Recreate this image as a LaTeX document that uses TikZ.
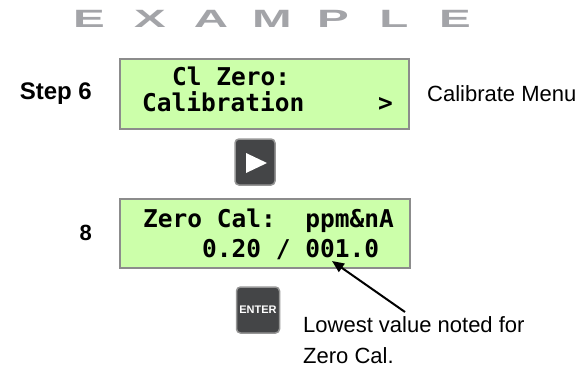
\documentclass[tikz,border=0pt]{standalone}
\usepackage{fontspec}
\setmainfont{Liberation Sans}
\newfontfamily\lcdfont{DejaVu Sans Mono}
\usetikzlibrary{arrows.meta}
\definecolor{lcdgreen}{RGB}{204,255,170}
\definecolor{lcdborder}{RGB}{140,140,140}
\definecolor{btnfill}{RGB}{68,69,71}
\definecolor{btnborder}{RGB}{150,150,150}
\definecolor{examplegrey}{RGB}{163,164,168}
\begin{document}
\begin{tikzpicture}[x=1pt,y=-1pt,
  lcdbox/.style={draw=lcdborder, line width=2pt, fill=lcdgreen, inner sep=0pt, anchor=north west},
  lcdtext/.style={inner sep=0pt, anchor=base west, font=\lcdfont\bfseries\fontsize{24.5}{24.5}\selectfont},
  btn/.style={draw=btnborder, line width=1.5pt, fill=btnfill, rounded corners=4pt, inner sep=0pt},
  steplabel/.style={inner sep=0pt, anchor=base east, font=\bfseries\fontsize{24}{24}\selectfont},
  note/.style={inner sep=0pt, anchor=base west, font=\fontsize{22}{22}\selectfont}
]
\useasboundingbox (0,0) rectangle (587,367);
% title
\node[text=examplegrey, inner sep=0pt, font=\bfseries\fontsize{25}{25}\selectfont] (title) at (272,19)
  {\makebox[61pt]{\scalebox{1.9}[1]{E}}\makebox[61pt]{\scalebox{1.9}[1]{X}}\makebox[61pt]{\scalebox{1.9}[1]{A}}\makebox[61pt]{\scalebox{1.9}[1]{M}}\makebox[61pt]{\scalebox{1.9}[1]{P}}\makebox[61pt]{\scalebox{1.9}[1]{L}}\makebox[61pt]{\scalebox{1.9}[1]{E}}};
% LCD 1
\node[lcdbox, minimum width=289pt, minimum height=70pt] (lcd1) at (119,58) {};
\node[lcdtext] (l1a) at (172,85) {Cl Zero:};
\node[lcdtext] (l1b) at (142,111) {Calibration\ \ \ \ \ >};
\node[steplabel] (step) at (92,99) {Step 6};
\node[note] (menu) at (427,101) {Calibrate Menu};
% play button
\node[btn, minimum width=40pt, minimum height=46pt] (play) at (255,162) {};
\fill[white] (246,153) -- (246,173) -- (267,163) -- cycle;
% LCD 2
\node[lcdbox, minimum width=290pt, minimum height=69pt] (lcd2) at (119,198) {};
\node[lcdtext] (l2a) at (143,227) {Zero Cal:\ \ ppm\&nA};
\node[lcdtext] (l2b) at (202,257) {0.20 / 001.0};
\node[steplabel, font=\bfseries\fontsize{22}{22}\selectfont] (eight) at (92,240) {8};
% enter button
\node[btn, minimum width=43pt, minimum height=46pt, text=white, font=\bfseries\fontsize{11}{11}\selectfont] (enter) at (258,310) {ENTER};
% note and arrow
\node[note] (note1) at (303,332) {Lowest value noted for};
\node[note] (note2) at (303,363) {Zero Cal.};
\coordinate (tail) at (405,312);
\coordinate (tip) at (332,261);
\draw[line width=2pt, -{Triangle[length=12pt,width=10pt]}] (tail) -- (tip);
\end{tikzpicture}
\end{document}
